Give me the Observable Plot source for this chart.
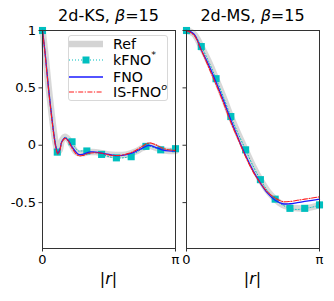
<!DOCTYPE html>
<html><head><meta charset="utf-8">
<script src="https://cdn.jsdelivr.net/npm/d3@7"></script>
<script src="https://cdn.jsdelivr.net/npm/@observablehq/plot@0.6"></script>
<style>
body{margin:0;background:#fff;font-family:"DejaVu Sans",sans-serif;}
#wrap{position:relative;width:334px;height:301px;overflow:hidden;background:#fff}
.title{position:absolute;top:6px;font-size:16px;line-height:19px;white-space:nowrap;transform:translateX(-50%);color:#000}
.xlab{position:absolute;top:269px;font-size:16px;line-height:19px;transform:translateX(-50%);color:#000}
#legend{position:absolute;left:68px;top:35px;width:100px;height:66px;border:1px solid #d8d8d8;border-radius:3px;background:rgba(255,255,255,0.85);box-sizing:border-box}
.row{position:absolute;left:0;height:16px;line-height:16px;display:flex;align-items:center;font-size:14.2px;white-space:nowrap}
.row svg{margin-left:0px;margin-right:10px;flex:none}
.sup{display:inline-block;font-size:9.5px;line-height:8px;height:8px;vertical-align:top;margin-top:-1px}
</style></head><body><div id="wrap"></div>
<script>
// ---------- data ----------
// r values in units of pi
const rKS = [0,0.02,0.045,0.07,0.085,0.10,0.115,0.13,0.145,0.17,0.195,0.22,0.245,0.27,0.30,0.35,0.40,0.45,0.50,0.55,0.60,0.65,0.70,0.75,0.80,0.85,0.90,0.95,1.0];
const refKS = [1.0,0.81,0.52,0.26,0.12,0.01,-0.06,-0.04,0.04,0.075,0.05,0.0,-0.05,-0.07,-0.07,-0.06,-0.06,-0.07,-0.08,-0.085,-0.085,-0.075,-0.055,-0.025,-0.005,-0.02,-0.04,-0.05,-0.05];
const kfnoKS = [1.0,0.80,0.51,0.25,0.11,0.0,-0.06,-0.04,0.03,0.07,0.05,0.02,-0.02,-0.05,-0.05,-0.055,-0.065,-0.08,-0.10,-0.11,-0.11,-0.10,-0.07,-0.03,-0.01,-0.025,-0.04,-0.035,-0.03];
const fnoKS = [1.0,0.80,0.50,0.24,0.10,-0.01,-0.07,-0.04,0.03,0.065,0.04,-0.01,-0.05,-0.08,-0.08,-0.06,-0.06,-0.07,-0.08,-0.09,-0.088,-0.075,-0.055,-0.025,-0.002,-0.018,-0.04,-0.05,-0.05];
const isfnoKS = [1.0,0.79,0.49,0.23,0.09,-0.02,-0.075,-0.045,0.025,0.06,0.035,-0.02,-0.065,-0.09,-0.09,-0.07,-0.065,-0.07,-0.085,-0.09,-0.085,-0.07,-0.045,-0.01,0.02,0.005,-0.025,-0.04,-0.045];
const rMark = [0,1/9,2/9,3/9,4/9,5/9,6/9,7/9,8/9,1];
const kfnoMarkKS = [1.0,-0.06,0.03,-0.05,-0.08,-0.11,-0.10,-0.01,-0.04,-0.03];

const rMS = [0,1/18,2/18,3/18,4/18,5/18,6/18,7/18,8/18,9/18,10/18,11/18,12/18,13/18,14/18,15/18,16/18,17/18,1];
const refMS = [1.0,0.97,0.86,0.73,0.58,0.42,0.25,0.10,-0.04,-0.18,-0.30,-0.40,-0.47,-0.52,-0.54,-0.55,-0.55,-0.54,-0.52];
const kfnoMS = [1.0,0.97,0.86,0.73,0.58,0.42,0.25,0.10,-0.04,-0.18,-0.30,-0.40,-0.47,-0.52,-0.55,-0.56,-0.55,-0.54,-0.52];
const fnoMS = [1.0,0.97,0.83,0.70,0.55,0.39,0.22,0.06,-0.09,-0.22,-0.33,-0.42,-0.48,-0.51,-0.51,-0.50,-0.49,-0.48,-0.47];
const isfnoMS = [1.0,0.96,0.83,0.68,0.53,0.37,0.20,0.05,-0.10,-0.23,-0.33,-0.41,-0.46,-0.49,-0.49,-0.48,-0.47,-0.46,-0.45];
const kfnoMarkMS = [1.0,0.86,0.58,0.25,-0.04,-0.30,-0.47,-0.55,-0.55,-0.52];

const titles = ["2d-KS, ", "2d-MS, "];
const yTicks = [1, 0.5, 0, -0.5];
const yTickLabels = ["1", "0.5", "0", "-0.5"];
const xTicks = [0, Math.PI];
const xTickLabels = ["0", "π"];
const seriesNames = ["Ref", "kFNO", "FNO", "IS-FNO"];

// ---------- build ----------
const toRows = (r, v) => r.map((x, i) => ({r: x * Math.PI, v: v[i]}));
const C = {ref: "#d4d4d4", kfno: "#00bfbf", fno: "#1a1aff", isfno: "#ff1a1a"};

function panel(d, showY, width, ml, mr) {
  return Plot.plot({
    width, height: 301, marginLeft: ml, marginRight: mr, marginTop: 30, marginBottom: 53,
    style: {fontFamily: "DejaVu Sans", fontSize: "13px", color: "#000", background: "transparent", overflow: "visible"},
    x: {domain: [0, Math.PI]},
    y: {domain: [-0.9, 1]},
    marks: [
      Plot.line(toRows(d.r, d.ref), {x: "r", y: "v", stroke: C.ref, strokeWidth: 6.5, strokeOpacity: 0.9, curve: "catmull-rom"}),
      Plot.line(toRows(d.r, d.kfno), {x: "r", y: "v", stroke: C.kfno, strokeWidth: 1, strokeDasharray: "1,2", curve: "catmull-rom"}),
      Plot.dot(toRows(rMark, d.kmark), {x: "r", y: "v", symbol: "square", r: 4, fill: C.kfno}),
      Plot.line(toRows(d.r, d.fno), {x: "r", y: "v", stroke: C.fno, strokeWidth: 1.3, curve: "catmull-rom"}),
      Plot.line(toRows(d.r, d.isfno), {x: "r", y: "v", stroke: C.isfno, strokeWidth: 1.1, strokeDasharray: "5,1.5,1.2,1.5", curve: "catmull-rom"}),
      Plot.frame({stroke: "#333", strokeWidth: 1}),
      Plot.axisY(yTicks, {tickSize: 3.5, tickPadding: 3, fontSize: 13, stroke: "#333",
        tickFormat: showY ? (v) => yTickLabels[yTicks.indexOf(v)] : () => "", label: null}),
      Plot.axisX(xTicks, {tickSize: 3.5, tickPadding: 3, fontSize: 13, stroke: "#333",
        tickFormat: (v) => xTickLabels[xTicks.indexOf(v)], label: null})
    ]
  });
}

const wrap = document.getElementById("wrap");
const left = panel({r: rKS, ref: refKS, kfno: kfnoKS, fno: fnoKS, isfno: isfnoKS, kmark: kfnoMarkKS}, true, 180, 42, 5);
const right = panel({r: rMS, ref: refMS, kfno: kfnoMS, fno: fnoMS, isfno: isfnoMS, kmark: kfnoMarkMS}, false, 154, 6, 15);
left.style.position = "absolute"; left.style.left = "0px"; left.style.top = "0px";
right.style.position = "absolute"; right.style.left = "180px"; right.style.top = "0px";
wrap.appendChild(left); wrap.appendChild(right);

// titles & axis labels
[[108.5, titles[0]], [252.5, titles[1]]].forEach(([cx, t]) => {
  const d = document.createElement("div"); d.className = "title"; d.style.left = cx + "px";
  d.innerHTML = t + '<i>β</i>=15'; wrap.appendChild(d);
  const x = document.createElement("div"); x.className = "xlab"; x.style.left = cx + "px";
  x.innerHTML = '|<i>r</i>|'; wrap.appendChild(x);
});

// legend
const lg = document.createElement("div"); lg.id = "legend"; wrap.appendChild(lg);
const handles = [
  `<line x1="0" y1="8" x2="34" y2="8" stroke="${C.ref}" stroke-width="6.5"/>`,
  `<line x1="0" y1="8" x2="34" y2="8" stroke="${C.kfno}" stroke-width="1" stroke-dasharray="1,2"/><rect x="13.5" y="4.5" width="7" height="7" fill="${C.kfno}"/>`,
  `<line x1="0" y1="8" x2="34" y2="8" stroke="${C.fno}" stroke-width="1.3"/>`,
  `<line x1="0" y1="8" x2="34" y2="8" stroke="${C.isfno}" stroke-width="1.1" stroke-dasharray="5,1.5,1.2,1.5"/>`
];
const sup = (s) => `<span class="sup">${s}</span>`;
const labels = [seriesNames[0], seriesNames[1] + sup('*'), seriesNames[2], seriesNames[3] + sup('<i>o</i>')];
const tops = [0, 16.4, 32.8, 48.2];
labels.forEach((l, i) => {
  const row = document.createElement("div"); row.className = "row"; row.style.top = tops[i] + "px";
  row.innerHTML = `<svg width="34" height="16">${handles[i]}</svg><span>${l}</span>`;
  lg.appendChild(row);
});
</script></body></html>
